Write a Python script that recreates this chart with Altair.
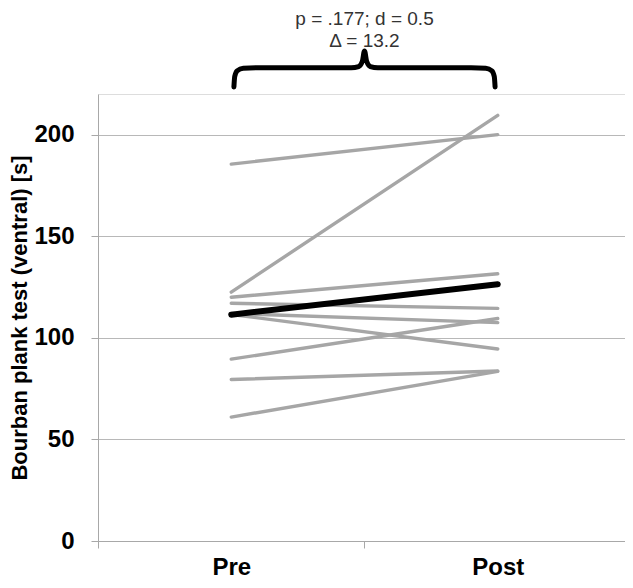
import altair as alt
import pandas as pd

# ---- data ----
times = ["Pre", "Post"]
pre_values = [185.5, 122.5, 120.0, 117.0, 112.0, 111.5, 89.5, 79.5, 61.0]
post_values = [200.0, 209.5, 131.5, 114.5, 107.5, 94.5, 109.5, 83.7, 83.5]
mean_values = [111.4, 126.4]
y_ticks = [0, 50, 100, 150, 200]
stats_lines = ["p = .177; d = 0.5", "\u0394 = 13.2"]
stats_levels = [256.9, 245.9]

# curly brace above the plot (x in category units, y in axis units)
brace_x = [0.51, 0.513, 0.522, 0.545, 0.6, 0.95, 0.978, 0.992, 1.0,
           1.008, 1.022, 1.05, 1.4, 1.455, 1.478, 1.487, 1.49]
brace_y = [223.5, 228.6, 231.4, 232.7, 232.9, 232.9, 233.5, 236.1, 241.2,
           236.1, 233.5, 232.9, 232.9, 232.7, 231.4, 228.6, 223.5]

pos = {t: i + 0.5 for i, t in enumerate(times)}

rows = []
for i, (a, b) in enumerate(zip(pre_values, post_values)):
    rows.append({"subject": f"s{i}", "time": "Pre", "x": pos["Pre"], "value": a})
    rows.append({"subject": f"s{i}", "time": "Post", "x": pos["Post"], "value": b})
ind = pd.DataFrame(rows)
mean = pd.DataFrame({"time": times, "x": [pos[t] for t in times], "value": mean_values})
brace = pd.DataFrame({"x": brace_x, "y": brace_y, "order": range(len(brace_x))})
stats = pd.DataFrame({"x": [1.0, 1.0], "y": stats_levels, "text": stats_lines})

label_expr = " : ".join(
    [f"datum.value == {pos[t]} ? '{t}'" for t in times]) + " : ''"

# the plot area runs slightly past the page's right margin in the reference,
# so the visible part of the x range ends just short of 2
x_scale = alt.Scale(domain=[0, 1.9775], nice=False, zero=False)
y_scale = alt.Scale(domain=[0, 220], nice=False)

x_axis = alt.Axis(
    values=[0, 0.5, 1, 1.5], labelExpr=label_expr, title=None, grid=False,
    tickSize=7, tickColor="#a8a8a8",
    tickOpacity={"condition": {"test": "datum.value % 1 == 0", "value": 1}, "value": 0},
    domainColor="#a8a8a8", labelFontSize=24, labelFontWeight="bold",
    labelColor="black", labelPadding=7, labelFlush=False, labelOverlap=False,
)
y_axis = alt.Axis(
    values=y_ticks, title="Bourban plank test (ventral) [s]", grid=True,
    gridColor="#b8b8b8", gridWidth=1, tickSize=7, tickColor="#a8a8a8",
    domainColor="#a8a8a8", labelFontSize=24, labelFontWeight="bold",
    labelColor="black", labelPadding=17, titleFontSize=22,
    titleFontWeight="bold", titleColor="black", titlePadding=2,
)

lines = alt.Chart(ind).mark_line(
    color="#a6a6a6", strokeWidth=3.4, strokeCap="round"
).encode(
    x=alt.X("x:Q", scale=x_scale, axis=x_axis),
    y=alt.Y("value:Q", scale=y_scale, axis=y_axis),
    detail="subject:N",
)

mean_line = alt.Chart(mean).mark_line(
    color="black", strokeWidth=6, strokeCap="round"
).encode(x="x:Q", y="value:Q")

brace_line = alt.Chart(brace).mark_line(
    color="black", strokeWidth=5, interpolate="monotone", clip=False,
    strokeCap="round", strokeJoin="round"
).encode(x="x:Q", y="y:Q", order="order:Q")

stats_text = alt.Chart(stats).mark_text(
    fontSize=19, color="#333333", baseline="middle", align="center", clip=False
).encode(x="x:Q", y="y:Q", text="text:N")

chart = alt.layer(lines, mean_line, brace_line, stats_text).properties(
    width=527, height=447,
    autosize=alt.AutoSizeParams(type="none"),
    padding={"left": 90, "top": 86, "right": 0, "bottom": 39},
).configure_view(stroke=None).configure(font="Liberation Sans")

chart.save("out.html", embed_options={"renderer": "svg", "actions": False})
